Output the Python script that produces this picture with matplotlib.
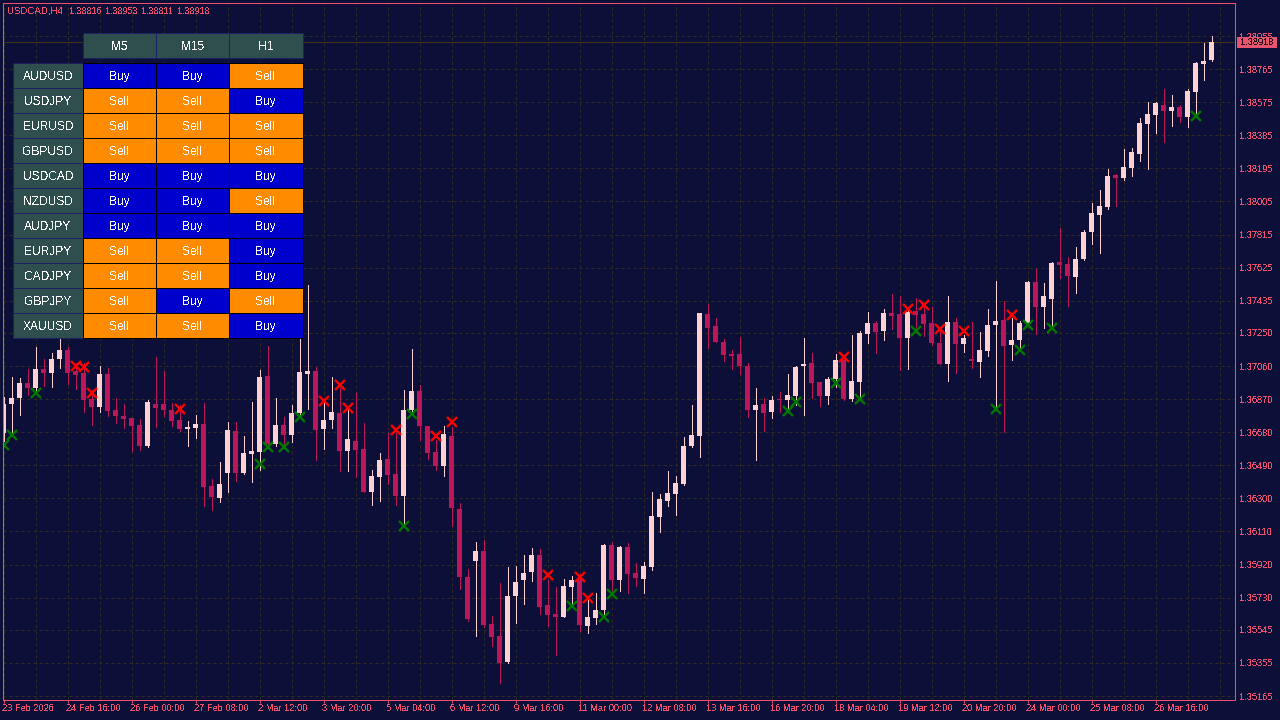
import numpy as np
import matplotlib
matplotlib.use("Agg")
import matplotlib.pyplot as plt
from matplotlib.patches import Rectangle
from matplotlib.transforms import ScaledTranslation

# candle values in points, 100000 points = 1.0
opens = [136675,136841,136876,136962,136933,137043,137020,137100,137152,137031,
         137020,136870,136824,137014,136807,136772,136761,136721,136600,136841,
         136841,136807,136750,136698,136704,136727,136371,136302,136445,136687,
         136445,136554,136566,137002,136612,136721,136664,136790,137014,137031,
         136698,136750,136790,136572,136629,136583,136336,136422,136526,136440,
         136313,136807,136916,136715,136566,136486,136658,136239,135848,135940,
         135998,135578,135510,135360,135739,135831,135877,135975,135688,135636,
         135619,135791,135831,135567,135613,135659,136032,135831,136021,135871,
         135837,135906,136193,136285,136325,136382,136600,136658,137359,137290,
         137198,137129,137129,137060,136807,136841,136795,136870,136864,136888,
         137060,137077,136968,136888,136985,137094,136870,136968,137244,137307,
         137261,137364,137359,137221,137376,137359,137307,137192,137071,137313,
         137186,137100,137083,137146,137295,137324,137181,137209,137307,137542,
         137399,137445,137657,137646,137571,137674,137830,137927,137973,138157,
         138140,138195,138277,138450,138501,138559,138524,138547,138490,138633,
         138794,138816]
highs = [136881,136997,136991,137043,137169,137100,137135,137232,137169,137077,
         137077,136922,137060,137048,136876,136841,136761,136755,136864,137112,
         137031,136847,136835,136744,136778,136847,136411,136508,136738,136738,
         136658,136853,137037,137175,136876,136767,136835,137215,137525,137054,
         136864,136997,136933,136818,136904,136732,136463,136560,136675,136675,
         136922,137158,136951,136715,136635,136715,136710,136273,135894,136049,
         136061,135624,135814,135906,135912,135975,136015,136009,135831,135791,
         135837,135854,135866,135716,135756,136038,136049,136026,136043,135929,
         135935,136336,136325,136457,136428,136652,136835,137364,137416,137336,
         137215,137152,137227,137077,136933,136876,136888,136910,137014,137060,
         137221,137135,136968,136997,137129,137123,137238,137261,137370,137318,
         137387,137473,137462,137399,137450,137399,137399,137267,137462,137336,
         137238,137313,137255,137387,137548,137436,137336,137318,137548,137617,
         137537,137657,137852,137686,137743,137841,137996,138071,138191,138163,
         138306,138312,138484,138576,138576,138651,138616,138559,138651,138806,
         138915,138953]
lows = [136629,136664,136778,136893,136910,136945,136939,137048,136956,136927,
        136795,136721,136795,136772,136732,136704,136572,136578,136595,136710,
        136772,136715,136687,136600,136646,136256,136233,136279,136336,136400,
        136440,136394,136463,136595,136600,136595,136623,136767,136813,136520,
        136583,136704,136457,136457,136422,136336,136262,136285,136382,136262,
        136147,136795,136635,136526,136463,136428,136141,135779,135596,135510,
        135561,135452,135240,135354,135584,135693,135825,135636,135567,135400,
        135619,135688,135538,135527,135578,135630,135774,135768,135756,135797,
        135756,135888,136107,136256,136204,136377,136595,136537,137163,137198,
        137089,137043,137014,136767,136520,136687,136761,136795,136807,136835,
        136778,136876,136830,136841,136939,136864,136859,136864,137192,137135,
        137209,137272,137037,137043,137267,137232,137181,137071,136974,137020,
        137140,137048,136997,137117,136807,136681,137094,137152,137295,137244,
        137278,137295,137565,137405,137479,137669,137761,137709,137962,137979,
        138128,138151,138237,138191,138398,138346,138438,138461,138432,138513,
        138702,138811]
closes = [136841,136876,136962,136933,137043,137020,137100,137152,137020,137008,
          136864,136824,137014,136801,136772,136755,136715,136600,136853,136818,
          136807,136744,136698,136710,136727,136365,136308,136382,136692,136445,
          136560,136572,136997,136612,136721,136664,136790,137025,137031,136692,
          136750,136795,136572,136641,136578,136336,136428,136520,136434,136313,
          136807,136916,136715,136560,136486,136669,136244,135848,135607,135998,
          135573,135504,135354,135739,135820,135871,135975,135676,135630,135619,
          135797,135831,135573,135619,135659,136032,135831,136021,135866,135843,
          135912,136199,136296,136331,136388,136600,136664,137364,137278,137198,
          137123,137117,137060,136807,136835,136790,136864,136864,136893,137054,
          137071,136962,136888,136985,137094,136870,136974,137250,137307,137255,
          137364,137347,137221,137370,137353,137301,137192,137071,137313,137186,
          137221,137089,137152,137295,137318,137175,137209,137307,137542,137399,
          137462,137651,137640,137577,137674,137830,137939,137979,138151,138140,
          138203,138289,138455,138507,138570,138524,138547,138490,138639,138800,
          138811,138918]

# arrow signals, bar index and price
sell_bars = [9,10,11,22,40,42,43,49,54,56,68,72,73,105,113,115,117,120,126]
sell_prices = [137060,137054,136904,136813,136859,136951,136818,136692,136658,136738,
               135860,135848,135728,137112,137387,137410,137272,137261,137353]
buy_bars = [0,1,4,32,33,35,37,50,51,71,75,76,98,99,104,107,114,124,127,128,131,149]
buy_prices = [136606,136664,136904,136497,136595,136595,136767,136141,136784,135682,
              135619,135750,136801,136853,136962,136870,137261,136813,137152,137295,
              137278,138495]

price_ticks = [1.38955,1.38765,1.38575,1.38385,1.38195,1.38005,1.37815,1.37625,1.37435,1.37250,1.37060,
               1.36870,1.36680,1.36490,1.36300,1.36110,1.35920,1.35730,1.35545,1.35355,1.35165]
date_labels = ["23 Feb 2026","24 Feb 16:00","26 Feb 00:00","27 Feb 08:00","2 Mar 12:00","3 Mar 20:00",
               "5 Mar 04:00","6 Mar 12:00","9 Mar 16:00","11 Mar 00:00","12 Mar 08:00","13 Mar 16:00",
               "16 Mar 20:00","18 Mar 04:00","19 Mar 12:00","20 Mar 20:00","24 Mar 00:00","25 Mar 08:00",
               "26 Mar 16:00"]

timeframes = ["M5","M15","H1"]
symbols = ["AUDUSD","USDJPY","EURUSD","GBPUSD","USDCAD","NZDUSD","AUDJPY","EURJPY","CADJPY","GBPJPY","XAUUSD"]
sig_m5 = ["Buy","Sell","Sell","Sell","Buy","Buy","Buy","Sell","Sell","Sell","Sell"]
sig_m15 = ["Buy","Sell","Sell","Sell","Buy","Buy","Buy","Sell","Sell","Buy","Sell"]
sig_h1 = ["Sell","Buy","Sell","Sell","Buy","Sell","Buy","Buy","Buy","Sell","Buy"]

title = "USDCAD,H4"
ohlc_text = ["1.38816","1.38953","1.38811","1.38918"]
last_price = 1.38918

bg = "#0c0f38"
bull = "#ffd1d1"
bear = "#bd1659"
axis_col = "#f0506e"
grid_col = "#312c20"
slate = "#2f4f4f"
px = 72 / 100  # one pixel in points

plt.rcParams["font.family"] = ["Liberation Sans", "DejaVu Sans"]
plt.rcParams["text.antialiased"] = False
plt.rcParams["text.hinting"] = "native"

opens = np.array(opens) / 1e5
highs = np.array(highs) / 1e5
lows = np.array(lows) / 1e5
closes = np.array(closes) / 1e5
bars = np.arange(len(opens))
up = closes >= opens

fig = plt.figure(figsize=(12.8, 7.2), dpi=100, facecolor=bg)
ax = fig.add_axes([2.5 / 1280, 20.5 / 720, 1232 / 1280, 697 / 720], facecolor=bg)
ax.set_xlim(-0.125, 153.875)
ax.set_ylim(1.38955 - 663.5 * 0.0379 / 660, 1.38955 + 33.5 * 0.0379 / 660)

for side in ax.spines.values():
    side.set_visible(False)

# grid
for t in price_ticks:
    ax.axhline(t, color=grid_col, lw=px, dashes=(3, 3), zorder=1)
for k in range(0, len(bars) + 2, 4):
    ax.axvline(k, color=grid_col, lw=px, dashes=(3, 3), zorder=1)
ax.axhline(last_price, color="#3e3414", lw=px, zorder=1.5)

# candles
cols = [bull if u else bear for u in up]
ax.vlines(bars, lows, highs, colors=cols, lw=px, zorder=2, antialiased=False)
ax.bar(bars, np.abs(closes - opens), bottom=np.minimum(opens, closes), width=5 / 8,
       color=cols, linewidth=0, zorder=3, antialiased=False)

# signals
ax.plot(sell_bars, np.array(sell_prices) / 1e5, ls="", marker="x", ms=6.6, mew=1.7, color="#ff0000",
        zorder=4, antialiased=False)
ax.plot(buy_bars, np.array(buy_prices) / 1e5, ls="", marker="x", ms=6.6, mew=1.7, color="#007800",
        zorder=4, antialiased=False)

# axes
ax.yaxis.tick_right()
ax.set_yticks(price_ticks)
ax.set_yticklabels(["%.5f" % t for t in price_ticks])
ax.set_xticks(bars[::8])
ax.set_xticklabels(date_labels, ha="left")
ax.tick_params(axis="y", colors=axis_col, length=0, labelsize=9.3 * px, pad=3.8)
ax.tick_params(axis="x", colors=axis_col, length=2.5, width=px, labelsize=9.3 * px, pad=0.5)
shift = ScaledTranslation(-2 / 100, 0, fig.dpi_scale_trans)
for lab in ax.get_xticklabels():
    lab.set_transform(lab.get_transform() + shift)

# overlay in screen pixels for the terminal objects
top = fig.add_axes([0, 0, 1, 1], facecolor="none", zorder=5)
top.set_xlim(0, 1280)
top.set_ylim(720, 0)
top.axis("off")

top.add_patch(Rectangle((2.5, 2.5), 1232, 697, fc="none", ec=axis_col, lw=px, antialiased=False))

top.text(7, 11.5, title, color=axis_col, fontsize=9.6 * px, va="center")
for n, s in enumerate(ohlc_text):
    top.text(69.5 + 36 * n, 11.5, s, color=axis_col, fontsize=9 * px, va="center")

top.add_patch(Rectangle((1237, 37), 39.5, 11, fc="#e8546f", ec="none", antialiased=False))
top.text(1257, 42.5, "%.5f" % last_price, color="#240814", fontsize=9.3 * px, ha="center", va="center")

col_x = [83, 156, 229]
col_w = 73.5
header_edge = "#1f1f66"
for x, name in zip(col_x, timeframes):
    top.add_patch(Rectangle((x, 33), col_w, 24.5, fc=slate, ec=header_edge, lw=px, antialiased=False))
    top.text(x + col_w / 2, 50, name, color="white", fontsize=12 * px, ha="center", va="baseline")

for r, sym in enumerate(symbols):
    y = 63 + 25 * r
    top.add_patch(Rectangle((13, y), 70, 24.5, fc=slate, ec=header_edge, lw=px, antialiased=False))
    top.text(48, y + 17, sym, color="white", fontsize=12 * px, ha="center", va="baseline")
    for x, sig in zip(col_x, (sig_m5[r], sig_m15[r], sig_h1[r])):
        fc = "#0000cd" if sig == "Buy" else "#ff8c00"
        top.add_patch(Rectangle((x, y), col_w, 24.5, fc=fc, ec="black", lw=px, antialiased=False))
        top.text(x + col_w / 2, y + 17, sig, color="white", fontsize=12 * px, ha="center", va="baseline")

fig.savefig("out.png", dpi=100, facecolor=bg)
